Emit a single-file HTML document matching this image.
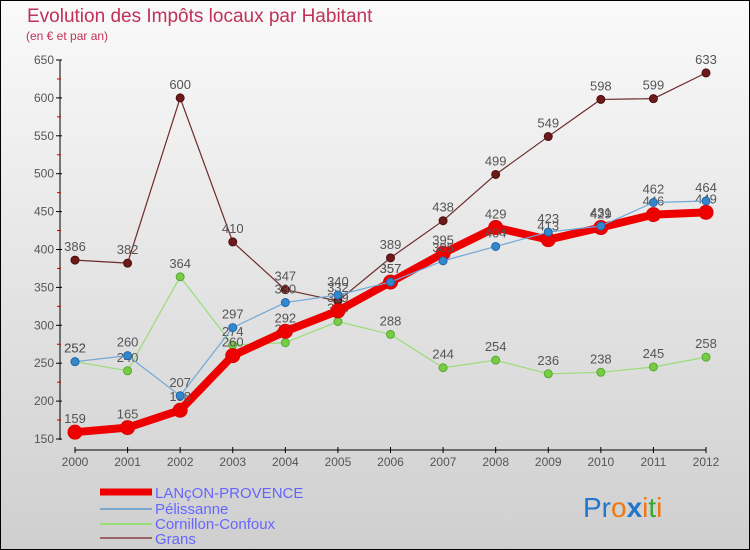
<!DOCTYPE html>
<html><head><meta charset="utf-8"><style>
body{margin:0}
#c{width:750px;height:550px;position:relative;overflow:hidden}
svg text{font-family:"Liberation Sans",sans-serif}
</style></head><body>
<div id="c">
<svg id="s" width="750" height="550" xmlns="http://www.w3.org/2000/svg">
<defs><linearGradient id="bg" x1="0" y1="0" x2="0" y2="1"><stop offset="0" stop-color="#fafafa"/><stop offset="1" stop-color="#cfcfcf"/></linearGradient></defs>
<rect x="0.5" y="0.5" width="749" height="549" fill="url(#bg)" stroke="#000"/>
<text x="27" y="22" font-size="19" fill="#c0305a">Evolution des Impôts locaux par Habitant</text>
<text x="26" y="40" font-size="12" fill="#c0305a">(en € et par an)</text>
<g id="axes"></g><g id="marks"></g>
<g>
<line x1="100" y1="492" x2="152" y2="492" stroke="#ee0000" stroke-width="7"/>
<text x="155" y="498" font-size="15" fill="#6666ff">LANçON-PROVENCE</text>
<line x1="100" y1="509" x2="152" y2="509" stroke="#7aa8cc" stroke-width="2"/>
<text x="155" y="514" font-size="15" fill="#6666ff">Pélissanne</text>
<line x1="100" y1="524" x2="152" y2="524" stroke="#99dd77" stroke-width="2"/>
<text x="155" y="529" font-size="15" fill="#6666ff">Cornillon-Confoux</text>
<line x1="100" y1="538" x2="152" y2="538" stroke="#996666" stroke-width="2"/>
<text x="155" y="544" font-size="15" fill="#6666ff">Grans</text>
</g>
<text x="583" y="517" font-size="28" font-family="Liberation Sans"><tspan fill="#2277cc">Pr</tspan><tspan fill="#ee7711">o</tspan><tspan fill="#2277cc" font-weight="bold">x</tspan><tspan fill="#ee7711">i</tspan><tspan fill="#33aa33">t</tspan><tspan fill="#ee7711">i</tspan></text>
</svg></div>
<script>
const years=[2000,2001,2002,2003,2004,2005,2006,2007,2008,2009,2010,2011,2012];
const lancon=[159,165,188,260,292,319,357,395,429,413,429,446,449];
const pelissanne=[252,260,207,297,330,340,357,385,404,423,431,462,464];
const cornillon=[252,240,364,274,277,305,288,244,254,236,238,245,258];
const grans=[386,382,600,410,347,332,389,438,499,549,598,599,633];
const yTicks=[150,200,250,300,350,400,450,500,550,600,650];
const NS="http://www.w3.org/2000/svg";
const X=i=>75+i*(706-75)/(years.length-1);
const Y=v=>439-(v-150)*(439-60)/500;
function el(t,a,p){const e=document.createElementNS(NS,t);for(const k in a)e.setAttribute(k,a[k]);p.appendChild(e);return e;}
const ax=document.getElementById('axes'),mk=document.getElementById('marks');
const ya=el('line',{x1:60,y1:60,x2:60,y2:440,stroke:'#000'},ax);


yTicks.forEach(v=>{
 el('line',{x1:56,y1:Y(v),x2:62,y2:Y(v),stroke:'#000'},ax);
 if(v<650)el('line',{x1:57,y1:Y(v+25),x2:61,y2:Y(v+25),stroke:'#cc0000'},ax);
 const t=el('text',{x:54,y:Y(v)+4,'font-size':12,fill:'#555','text-anchor':'end'},ax);t.textContent=v;
 
 
});
const xa=el('line',{x1:X(0),y1:450,x2:X(12),y2:450,stroke:'#000'},ax);


years.forEach((y,i)=>{
 el('line',{x1:X(i),y1:447,x2:X(i),y2:453,stroke:'#000'},ax);
 const t=el('text',{x:X(i),y:466,'font-size':12,fill:'#555','text-anchor':'middle'},ax);t.textContent=y;
 
 
});
function series(d,name,col,w,r,dot,dotStroke){
 const g=el('g',{},mk);
 
 
 const p=el('polyline',{points:d.map((v,i)=>X(i)+','+Y(v)).join(' '),fill:'none',stroke:col,'stroke-width':w,'stroke-linejoin':'round'},g);
 
 
 d.forEach((v,i)=>{
  const c=el('circle',{cx:X(i),cy:Y(v),r:r,fill:dot,stroke:dotStroke,'stroke-width':1},g);
  
  
  const t=el('text',{x:X(i),y:Y(v)-9,'font-size':13,fill:'#555','text-anchor':'middle'},g);t.textContent=v;
  
  
 });
}
series(grans,'grans','#6e2a2a',1.2,4,'#6e1a1a','#4a1010');
series(cornillon,'cornillon','#99dd77',1.2,4,'#77cc44','#55aa33');
series(lancon,'lancon','#ee0000',8,7,'#ee0000','#dd0000');
series(pelissanne,'pelissanne','#6fa8d8',1.2,4,'#3388cc','#2266aa');
</script>
</body></html>
